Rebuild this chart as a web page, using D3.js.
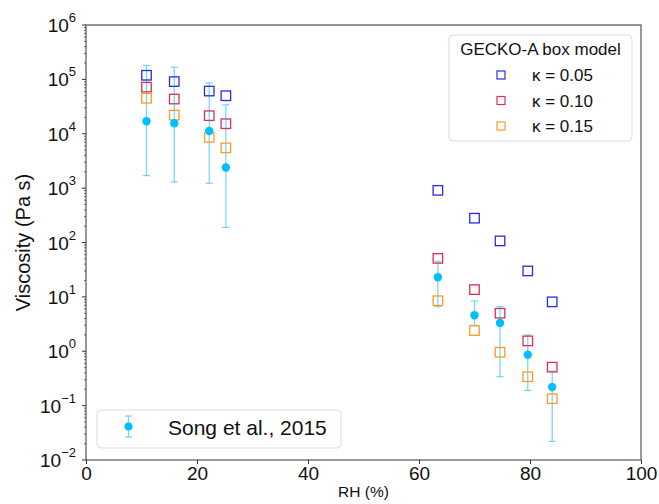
<!DOCTYPE html>
<html>
<head>
<meta charset="utf-8">
<script src="https://cdn.jsdelivr.net/npm/d3@7"></script>
<style>
  body { margin: 0; background: #fff; }
  svg text { font-family: Arial, "Liberation Sans", sans-serif; fill: #111; }
</style>
</head>
<body>
<div id="chart"></div>
<script>
// Song et al., 2015 measurements
var songRH = [10.9, 15.9, 22.2, 25.2, 63.4, 70.0, 74.6, 79.6, 84.0];
var songVisc = [1.7e4, 1.56e4, 1.12e4, 2.4e3, 23, 4.6, 3.3, 0.86, 0.22];
var songLow = [1.7e3, 1.3e3, 1.23e3, 190, 6.6, 3.0, 0.34, 0.19, 0.022];
var songHigh = [1.8e5, 1.67e5, 8.6e4, 3.4e4, 45, 8.4, 6.6, 2.0, 0.43];

// GECKO-A box model
var kappa005 = [1.19e5, 9.1e4, 6.1e4, 5.0e4, 910, 280, 107, 30, 8.1];
var kappa010 = [7.2e4, 4.35e4, 2.15e4, 1.53e4, 51, 13.6, 5.0, 1.55, 0.51];
var kappa015 = [4.5e4, 2.2e4, 8.6e3, 5.5e3, 8.5, 2.4, 0.96, 0.34, 0.134];

var modelLabels = ['\u03ba = 0.05', '\u03ba = 0.10', '\u03ba = 0.15'];
var modelColors = ['#2a2ae6', '#dc2f55', '#ff9a1f'];
var xTicks = [0, 20, 40, 60, 80, 100];
var yExps = [-2, -1, 0, 1, 2, 3, 4, 5, 6];

var width = 659, height = 504;
var svg = d3.select('#chart').append('svg')
	.attr('width', width)
	.attr('height', height);

// Scales
var x = d3.scaleLinear().domain([0, 100]).range([86, 641]);
var y = d3.scaleLog().domain([1e-2, 1e6]).range([460, 25]);

// Frame
svg.append('rect')
	.attr('x', x(0)).attr('y', y(1e6))
	.attr('width', x(100) - x(0)).attr('height', y(1e-2) - y(1e6))
	.attr('fill', 'none').attr('stroke', '#555').attr('stroke-width', 1.2);

// X axis
var xAxis = svg.append('g')
	.attr('transform', 'translate(0,' + y(1e-2) + ')')
	.call(d3.axisBottom(x).tickValues(xTicks).tickSize(4).tickPadding(3).tickFormat(d3.format('d')));
xAxis.select('.domain').remove();
xAxis.selectAll('line').attr('stroke', '#333');
xAxis.selectAll('text').style('font-size', '19px').attr('fill', '#111');

// Y axis: major ticks with superscript labels
var yAxis = svg.append('g').attr('transform', 'translate(' + x(0) + ',0)');
yExps.forEach(function(e) {
	var yy = y(Math.pow(10, e));
	yAxis.append('line').attr('x1', -4).attr('x2', 0).attr('y1', yy).attr('y2', yy).attr('stroke', '#333');
	var t = yAxis.append('text')
		.attr('x', -10)
		.attr('y', yy + 7)
		.attr('text-anchor', 'end')
		.style('font-size', '19px');
	t.append('tspan').text('10');
	t.append('tspan').attr('dy', -10).style('font-size', '13px').text(e < 0 ? '\u2212' + (-e) : e);
});
// minor ticks
for (var e = -2; e < 6; e++) {
	for (var k = 2; k < 10; k++) {
		var yy = y(k * Math.pow(10, e));
		yAxis.append('line').attr('x1', -2).attr('x2', 0).attr('y1', yy).attr('y2', yy).attr('stroke', '#444').attr('stroke-width', 0.8);
	}
}

// Axis labels
svg.append('text')
	.attr('transform', 'translate(30,' + ((y(1e6) + y(1e-2)) / 2) + ') rotate(-90)')
	.attr('text-anchor', 'middle')
	.style('font-size', '20px')
	.text('Viscosity (Pa s)');

svg.append('text')
	.attr('x', (x(0) + x(100)) / 2)
	.attr('y', 497)
	.attr('text-anchor', 'middle')
	.style('font-size', '15.5px')
	.text('RH (%)');

// Error bars
var errColor = '#6fd4f7';
var songData = songRH.map(function(r, i) {
	return { rh: r, v: songVisc[i], lo: songLow[i], hi: songHigh[i] };
});
var errs = svg.append('g').selectAll('g')
	.data(songData)
	.enter().append('g');
errs.append('line')
	.attr('x1', function(d) { return x(d.rh); })
	.attr('x2', function(d) { return x(d.rh); })
	.attr('y1', function(d) { return y(d.lo); })
	.attr('y2', function(d) { return y(d.hi); })
	.attr('stroke', errColor).attr('stroke-width', 1.2);
['lo', 'hi'].forEach(function(key) {
	errs.append('line')
		.attr('x1', function(d) { return x(d.rh) - 3.5; })
		.attr('x2', function(d) { return x(d.rh) + 3.5; })
		.attr('y1', function(d) { return y(d[key]); })
		.attr('y2', function(d) { return y(d[key]); })
		.attr('stroke', errColor).attr('stroke-width', 1.2);
});

// Model squares
var sq = 9.5;
[kappa005, kappa010, kappa015].forEach(function(series, s) {
	svg.append('g').selectAll('rect')
		.data(series)
		.enter().append('rect')
		.attr('x', function(d, i) { return x(songRH[i]) - sq / 2; })
		.attr('y', function(d) { return y(d) - sq / 2; })
		.attr('width', sq).attr('height', sq)
		.attr('fill', 'none')
		.attr('stroke', modelColors[s])
		.attr('stroke-width', 1.3);
});

// Song points
svg.append('g').selectAll('circle')
	.data(songData)
	.enter().append('circle')
	.attr('cx', function(d) { return x(d.rh); })
	.attr('cy', function(d) { return y(d.v); })
	.attr('r', 4.2)
	.attr('fill', '#00bfff');

// Legend: GECKO-A
var lg = svg.append('g');
lg.append('rect')
	.attr('x', 449).attr('y', 35).attr('width', 183).attr('height', 106)
	.attr('rx', 4).attr('fill', '#fff').attr('fill-opacity', 0.85)
	.attr('stroke', '#ddd');
lg.append('text')
	.attr('x', 540.5).attr('y', 55)
	.attr('text-anchor', 'middle')
	.style('font-size', '17px')
	.text('GECKO-A box model');
modelLabels.forEach(function(lab, i) {
	var ly = 75 + i * 25.5;
	lg.append('rect')
		.attr('x', 501 - 4).attr('y', ly - 4).attr('width', 8).attr('height', 8)
		.attr('fill', 'none').attr('stroke', modelColors[i]).attr('stroke-width', 1.2);
	lg.append('text')
		.attr('x', 532).attr('y', ly + 6)
		.style('font-size', '17px')
		.text(lab);
});

// Legend: Song et al.
var ls = svg.append('g');
ls.append('rect')
	.attr('x', 97).attr('y', 410).attr('width', 244).attr('height', 38)
	.attr('rx', 4).attr('fill', '#fff').attr('fill-opacity', 0.85)
	.attr('stroke', '#ddd');
ls.append('line').attr('x1', 128.5).attr('x2', 128.5).attr('y1', 416).attr('y2', 437).attr('stroke', errColor).attr('stroke-width', 1.2);
ls.append('line').attr('x1', 125).attr('x2', 132).attr('y1', 416).attr('y2', 416).attr('stroke', errColor).attr('stroke-width', 1.2);
ls.append('line').attr('x1', 125).attr('x2', 132).attr('y1', 437).attr('y2', 437).attr('stroke', errColor).attr('stroke-width', 1.2);
ls.append('circle').attr('cx', 128.5).attr('cy', 426.5).attr('r', 4).attr('fill', '#00bfff');
ls.append('text')
	.attr('x', 168).attr('y', 435)
	.style('font-size', '21px')
	.text('Song et al., 2015');
</script>
</body>
</html>
